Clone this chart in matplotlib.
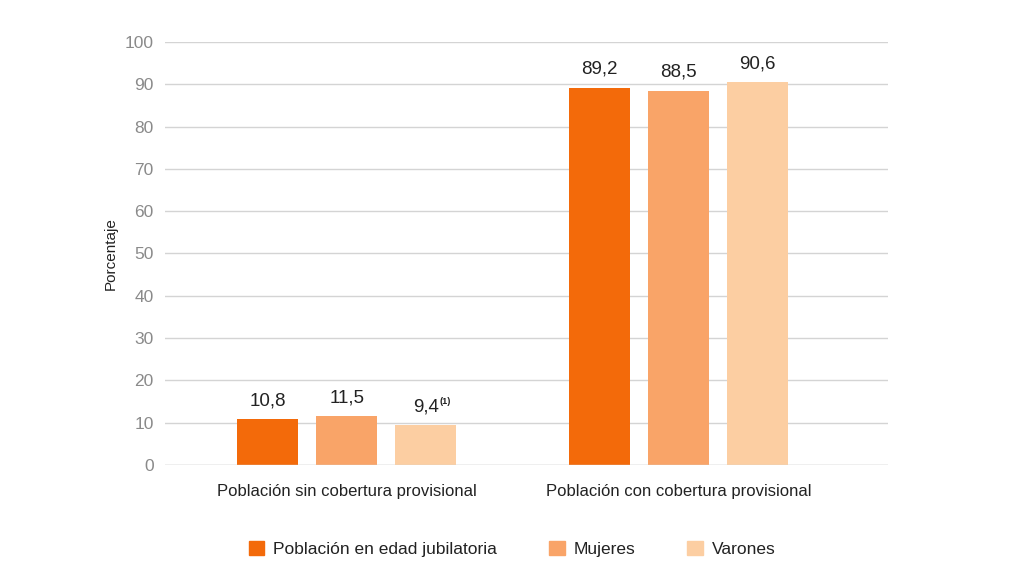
import matplotlib.pyplot as plt
from matplotlib.patches import Patch

categories = ["Población sin cobertura provisional", "Población con cobertura provisional"]
series = ["Población en edad jubilatoria", "Mujeres", "Varones"]
total = [10.8, 89.2]
mujeres = [11.5, 88.5]
varones = [9.4, 90.6]
labels_total = ["10,8", "89,2"]
labels_mujeres = ["11,5", "88,5"]
labels_varones = ["9,4", "90,6"]
yticks = [0, 10, 20, 30, 40, 50, 60, 70, 80, 90, 100]

colors = ["#F36A0A", "#F9A468", "#FCCEA2"]
sans = ["Liberation Sans", "DejaVu Sans"]

fig = plt.figure(figsize=(10.24, 5.76), dpi=100)
ax = fig.add_axes([0.161, 0.193, 0.706, 0.734])

step = 0.238
width = 0.184
x = [0, 1]
values = [total, mujeres, varones]
labels = [labels_total, labels_mujeres, labels_varones]

for i, (vals, labs) in enumerate(zip(values, labels)):
    pos = [g + (i - 1) * step for g in x]
    ax.bar(pos, vals, width=width, color=colors[i], zorder=3)
    for p, v, lab in zip(pos, vals, labs):
        ax.text(p, v + 2.3, lab, ha="center", va="bottom", fontsize=13.5,
                color="#222222", family=sans)

# footnote mark next to 9,4
ax.text(x[0] + step + 0.042, varones[0] + 4.6, "(1)", ha="left", va="bottom",
        fontsize=6.5, fontweight="bold", color="#222222", family=sans)

ax.set_xlim(-0.548, 1.63)
ax.set_ylim(0, 100)
ax.set_yticks(yticks)
ax.yaxis.grid(True, color="#d4d4d4", linewidth=1, zorder=0)
ax.set_xticks(x)
ax.set_xticklabels(categories, family=sans, fontsize=12, color="#222222")
ax.tick_params(axis="x", length=0, pad=14)
ax.tick_params(axis="y", length=0, pad=8, labelsize=12.5, labelcolor="#8a8a8a")
for lab in ax.get_yticklabels():
    lab.set_family(sans)
for s in ax.spines.values():
    s.set_visible(False)
ax.axhline(0, color="#d4d4d4", linewidth=1, zorder=4)

ax.set_ylabel("Porcentaje", family=sans, fontsize=11, color="#222222", labelpad=5)

handles = [Patch(color=c) for c in colors]
leg = fig.legend(handles, series, loc="center", bbox_to_anchor=(0.5, 0.047), ncol=3,
                 frameon=False, handlelength=0.9, handleheight=0.9, handletextpad=0.5,
                 columnspacing=3.0, prop={"family": sans, "size": 12.5})
for t in leg.get_texts():
    t.set_color("#222222")

fig.savefig("out.png", dpi=100)
